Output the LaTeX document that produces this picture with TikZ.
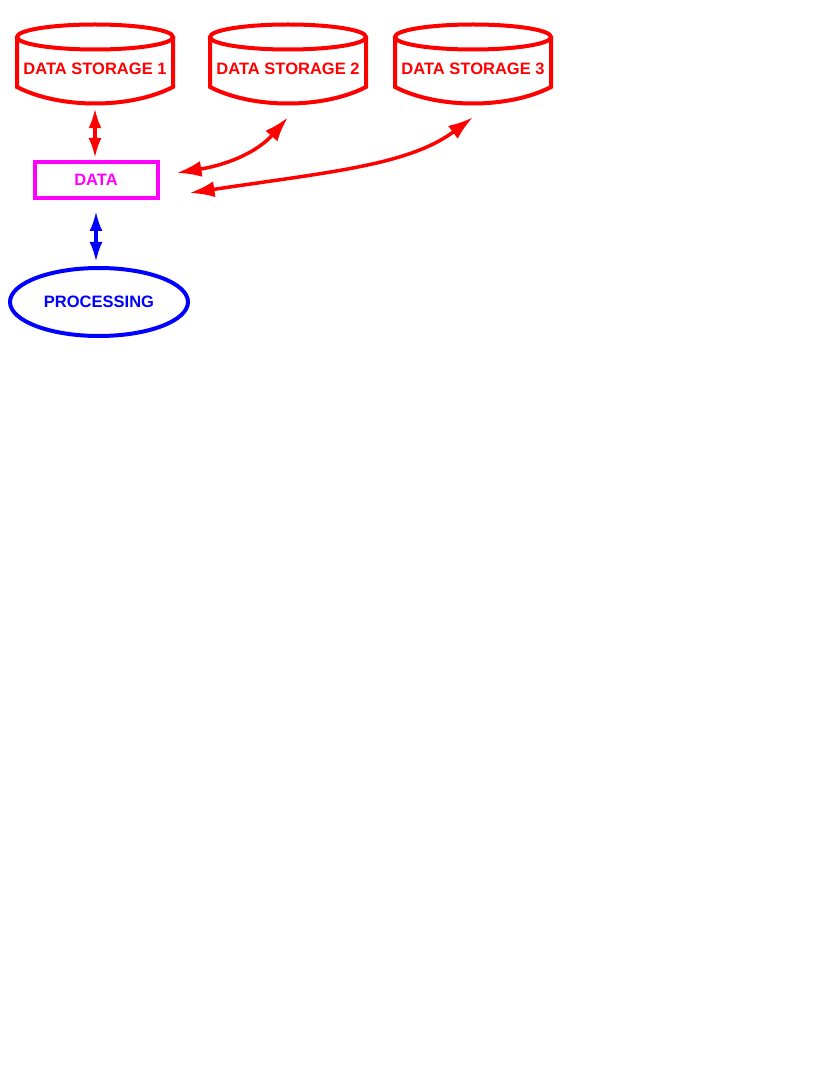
\documentclass[tikz,border=0pt]{standalone}
\usepackage{fontspec}
\setmainfont{Liberation Sans}
\usepackage{tikz}
\usetikzlibrary{arrows.meta,shapes.geometric}
\definecolor{datamag}{RGB}{255,0,255}

\begin{document}
\begin{tikzpicture}[x=1pt,y=1pt,
    font=\fontsize{16.5}{19}\selectfont\bfseries,
    store/.style={draw=red, line width=4pt},
    link/.style={line width=3.5pt, {Latex[length=20pt,width=13pt]}-{Latex[length=20pt,width=13pt]}},
    longlink/.style={line width=3.5pt, {Latex[length=25pt,width=16pt]}-{Latex[length=25pt,width=16pt]}}]
    \useasboundingbox (0,0) rectangle (830,-1075);
    \def\R{78} % half width of a storage
    % Storages
    \foreach \n/\x in {1/95,2/288,3/473} {
        \draw[store] (\x,-37) ellipse [x radius=\R, y radius=12.5];
        \draw[store] (\x-\R,-37) -- (\x-\R,-87)
            .. controls (\x-35,-109) and (\x+35,-109) .. (\x+\R,-87) -- (\x+\R,-37);
        \node[text=red, minimum width=156pt, minimum height=70pt, inner sep=0pt] (s\n) at (\x,-69) {DATA STORAGE \n};
    }
    % Data and processing
    \node[draw=datamag, text=datamag, line width=4pt, minimum width=123pt, minimum height=36pt] (data) at (96,-180) {DATA};
    \node[ellipse, draw=blue, text=blue, line width=4pt, minimum width=178pt, minimum height=68pt] (proc) at (99,-302) {PROCESSING};
    % Links
    \draw[link, red] ([yshift=-4pt]s1.south) -- ([yshift=2pt]s1.south |- data.north);
    \draw[link, blue] ([yshift=-11pt]data.south) -- ([yshift=4pt]data.south |- proc.north);
    \draw[longlink, red] ([xshift=17pt,yshift=7pt]data.east) .. controls +(55,9) and +(-29,-33) .. ([yshift=-13pt]s2.south);
    \draw[longlink, red] ([xshift=30pt,yshift=-13pt]data.east) .. controls +(140,21) and +(-64,-48) .. ([yshift=-13pt]s3.south);
\end{tikzpicture}
\end{document}
